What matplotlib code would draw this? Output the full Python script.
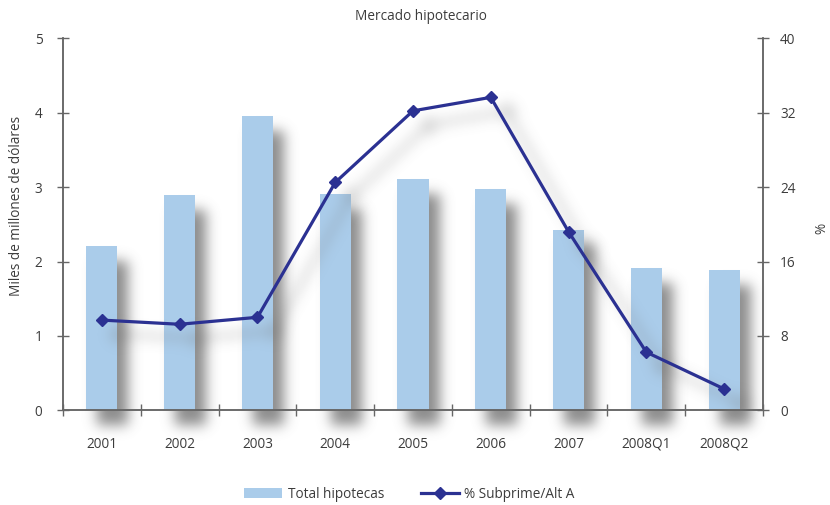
import numpy as np
import matplotlib
matplotlib.use("Agg")
import matplotlib.pyplot as plt
from matplotlib import font_manager
from matplotlib.patches import Patch
from matplotlib.lines import Line2D
from matplotlib.transforms import offset_copy

# ---- data -------------------------------------------------------------
periods = ["2001", "2002", "2003", "2004", "2005", "2006", "2007", "2008Q1", "2008Q2"]
total_hipotecas = [2.21, 2.89, 3.95, 2.91, 3.11, 2.97, 2.43, 1.91, 1.88]   # miles de millones de dólares
pct_subprime = [9.7, 9.25, 10.0, 24.5, 32.2, 33.65, 19.2, 6.25, 2.3]        # %

left_ticks = [0, 1, 2, 3, 4, 5]
right_ticks = [0, 8, 16, 24, 32, 40]

# ---- style ------------------------------------------------------------
BAR_COLOR = "#AACCEA"
LINE_COLOR = "#2B3192"
AXIS_COLOR = "#666666"
TEXT_COLOR = "#3C3C3C"


def pick_family(candidates):
    for fam in candidates:
        try:
            font_manager.findfont(font_manager.FontProperties(family=fam),
                                  fallback_to_default=False)
            return fam
        except Exception:
            continue
    return "DejaVu Sans"


FAMILY = pick_family(["Open Sans", "Liberation Sans"])
plt.rcParams["font.family"] = [FAMILY, "DejaVu Sans"]
FS = 9.8


def gaussian_shadow(sigma, alpha, color=(0.0, 0.0, 0.0)):
    """agg filter: replaces an artist by a blurred, tinted copy of its alpha."""
    r = int(3 * sigma)
    x = np.arange(-r, r + 1)
    k = np.exp(-0.5 * (x / sigma) ** 2)
    k /= k.sum()

    def _filter(im, dpi):
        pad = r + 2
        a = np.pad(im[:, :, 3], pad)
        a = np.apply_along_axis(lambda m: np.convolve(m, k, mode="same"), 0, a)
        a = np.apply_along_axis(lambda m: np.convolve(m, k, mode="same"), 1, a)
        out = np.empty(a.shape + (4,))
        out[..., :3] = color
        out[..., 3] = np.clip(a * alpha, 0, 1)
        return out, -pad, -pad

    return _filter


W, H = 830, 505
fig = plt.figure(figsize=(W / 100, H / 100), dpi=100)
ax = fig.add_axes([63 / W, 1 - 410.3 / H, 700 / W, 372 / H])
ax2 = ax.twinx()

x = np.arange(len(periods))

# bars with drop shadow
bar_shadow = ax.bar(x, total_hipotecas, width=0.4, color="#6E6E6E", zorder=1)
sh_tr = offset_copy(ax.transData, fig=fig, x=11, y=-15, units="dots")
for p in bar_shadow:
    p.set_transform(sh_tr)
    p.set_clip_on(False)
    p.set_agg_filter(gaussian_shadow(6.5, 0.78, (0.42, 0.42, 0.42)))
    p.set_rasterized(True)
bars = ax.bar(x, total_hipotecas, width=0.4, color=BAR_COLOR, zorder=2)

# line with soft shadow
line_shadow, = ax2.plot(x, pct_subprime, color="#777777", lw=4, marker="D", ms=9,
                        zorder=1, clip_on=False)
line_shadow.set_transform(offset_copy(ax2.transData, fig=fig, x=16, y=-14, units="dots"))
line_shadow.set_agg_filter(gaussian_shadow(6.5, 0.33, (0.45, 0.45, 0.45)))
line_shadow.set_rasterized(True)
line, = ax2.plot(x, pct_subprime, color=LINE_COLOR, lw=2.3, marker="D", ms=6, zorder=3)

# axes
ax.set_xlim(-0.5, len(periods) - 0.5)
ax.set_ylim(0, 5)
ax2.set_ylim(0, 40)
ax.set_yticks(left_ticks)
ax2.set_yticks(right_ticks)
ax.set_xticks(x)
ax.set_xticklabels(periods)
ax.set_xticks(np.arange(-0.5, len(periods)), minor=True)

for a in (ax, ax2):
    a.spines["top"].set_visible(False)
    for s in ("left", "right", "bottom"):
        a.spines[s].set_color(AXIS_COLOR)
        a.spines[s].set_linewidth(1.1)

ax.tick_params(axis="x", which="major", length=0, pad=19, labelsize=FS, labelcolor=TEXT_COLOR)
ax.tick_params(axis="x", which="minor", direction="inout", length=8.5, width=1.0, color=AXIS_COLOR)
ax.tick_params(axis="y", direction="inout", length=8.5, width=1.0, color=AXIS_COLOR,
               pad=10.5, labelsize=FS, labelcolor=TEXT_COLOR)
ax2.tick_params(axis="y", direction="inout", length=8.5, width=1.0, color=AXIS_COLOR,
                pad=8, labelsize=FS, labelcolor=TEXT_COLOR)

# texts
fig.text(421 / W, 1 - 16 / H, "Mercado hipotecario", ha="center", va="center",
         fontsize=FS, color=TEXT_COLOR)
fig.text(16 / W, 1 - 206 / H, "Miles de millones de dólares", rotation=90,
         ha="center", va="center", fontsize=FS, color=TEXT_COLOR)
fig.text(822 / W, 1 - 228 / H, "%", rotation=90, ha="center", va="center",
         fontsize=FS, color=TEXT_COLOR)

handles = [Patch(facecolor=BAR_COLOR, edgecolor="none"),
           Line2D([], [], color=LINE_COLOR, lw=2.3, marker="D", ms=6)]
fig.legend(handles, ["Total hipotecas", "% Subprime/Alt A"], loc="center left",
           bbox_to_anchor=(232 / W, 1 - 494 / H), ncol=2, frameon=False,
           fontsize=FS, labelcolor=TEXT_COLOR, handlelength=2.8,
           handletextpad=0.38, columnspacing=2.7)

fig.savefig("out.png", dpi=100)
